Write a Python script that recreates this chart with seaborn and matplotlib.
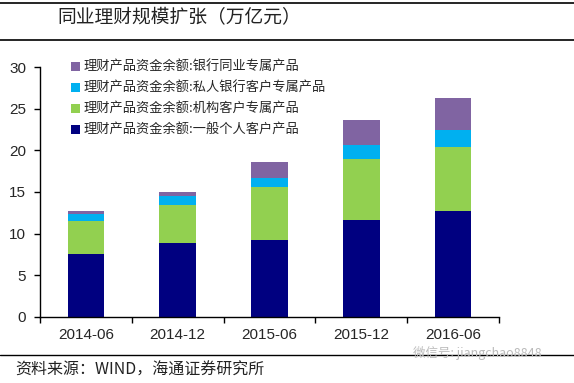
import numpy as np
import pandas as pd
import matplotlib
matplotlib.use("Agg")
import matplotlib.pyplot as plt
import seaborn as sns
from matplotlib.patches import Patch

sns.set_theme(style="white")
plt.rcParams['font.family'] = ['Liberation Sans', 'Noto Sans CJK SC', 'DejaVu Sans']

periods = ["2014-06", "2014-12", "2015-06", "2015-12", "2016-06"]
general_retail = [7.5, 8.9, 9.2, 11.6, 12.7]
institutional = [4.0, 4.5, 6.4, 7.3, 7.7]
private_bank = [0.8, 1.1, 1.1, 1.7, 2.0]
interbank = [0.4, 0.5, 1.9, 3.0, 3.9]

series_names = [
    "理财产品资金余额:一般个人客户产品",
    "理财产品资金余额:机构客户专属产品",
    "理财产品资金余额:私人银行客户专属产品",
    "理财产品资金余额:银行同业专属产品",
]
series_vals = [general_retail, institutional, private_bank, interbank]
colors = ["#000080", "#92D050", "#00B0F0", "#8064A2"]

df = pd.DataFrame({"period": periods})
cum = np.zeros(len(periods))
cum_cols = []
for name, vals in zip(series_names, series_vals):
    cum = cum + np.array(vals)
    df[name] = cum.copy()
    cum_cols.append(name)

fig = plt.figure(figsize=(5.74, 3.83), dpi=100)
ax = fig.add_axes([0.0697, 0.173, 0.7993, 0.652])

for name, color in reversed(list(zip(cum_cols, colors))):
    sns.barplot(data=df, x="period", y=name, color=color, width=0.4,
                saturation=1, ax=ax, linewidth=0)

ax.set_ylim(0, 30)
ax.set_xlim(-0.5, 4.5)
ax.set_yticks([0, 5, 10, 15, 20, 25, 30])
ax.set_xlabel("")
ax.set_ylabel("")
for s in ["top", "right"]:
    ax.spines[s].set_visible(False)
for s in ["left", "bottom"]:
    ax.spines[s].set_color("black")
    ax.spines[s].set_linewidth(1.0)

ax.tick_params(axis="y", direction="out", length=4, width=1, color="black",
               labelsize=11, pad=6, left=True)
ax.set_xticks(range(len(periods)))
ax.set_xticklabels(periods)
ax.tick_params(axis="x", which="major", length=0, labelsize=11, pad=8)
ax.set_xticks(np.arange(-0.5, len(periods), 1.0), minor=True)
ax.tick_params(axis="x", which="minor", direction="out", length=4, width=1,
               color="black", bottom=True)

handles = [Patch(facecolor=c, edgecolor="none") for c in colors]
leg = ax.legend(list(reversed(handles)), list(reversed(series_names)),
                loc="upper left", bbox_to_anchor=(0.055, 1.045), frameon=False,
                prop={"family": ["Noto Sans CJK SC", "DejaVu Sans"], "size": 9.5},
                handlelength=0.7, handleheight=0.7, handletextpad=0.3,
                labelspacing=0.6, borderaxespad=0)

fig.text(0.10, 0.953, "同业理财规模扩张（万亿元）", fontsize=13.5,
         family=["Noto Sans CJK SC", "DejaVu Sans"], va="center", ha="left",
         color="#222222")
fig.add_artist(plt.Line2D([0.0, 1.0], [0.992, 0.992], color="black", lw=1.2,
                          transform=fig.transFigure))
fig.add_artist(plt.Line2D([0.0, 1.0], [0.896, 0.896], color="black", lw=1.2,
                          transform=fig.transFigure))
fig.add_artist(plt.Line2D([0.0, 1.0], [0.073, 0.073], color="black", lw=1.0,
                          transform=fig.transFigure))
fig.text(0.026, 0.034, "资料来源：WIND，海通证券研究所", fontsize=11.5,
         family=["Noto Sans CJK SC", "DejaVu Sans"], va="center", ha="left",
         color="#222222")
fig.text(0.72, 0.078, "微信号: jiangchao8848", fontsize=9,
         family=["Noto Sans CJK SC", "DejaVu Sans"], va="center", ha="left",
         color="#bbbbbb")

fig.savefig("out.png", dpi=100)
